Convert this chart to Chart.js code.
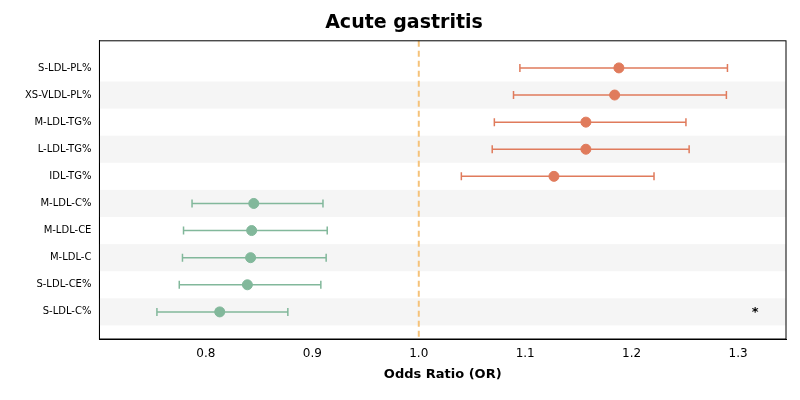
<!DOCTYPE html>
<html><head><meta charset="utf-8">
<script src="https://cdn.jsdelivr.net/npm/chart.js@4/dist/chart.umd.min.js"></script>
<style>body{margin:0;background:#fff}#wrap{width:800px;height:400px}</style>
</head><body><div id="wrap"><canvas id="mainChart"></canvas></div>
<script>
const labels = ["S-LDL-PL%","XS-VLDL-PL%","M-LDL-TG%","L-LDL-TG%","IDL-TG%","M-LDL-C%","M-LDL-CE","M-LDL-C","S-LDL-CE%","S-LDL-C%"];
const orValues = [1.188,1.184,1.157,1.157,1.127,0.845,0.843,0.842,0.839,0.813];
const lowValues = [1.095,1.089,1.071,1.069,1.040,0.787,0.779,0.778,0.775,0.754];
const highValues = [1.290,1.289,1.251,1.254,1.221,0.910,0.914,0.913,0.908,0.877];
const riskColor = "#e07b5c";
const protColor = "#82b89b";

const colors = orValues.map(v => v > 1 ? riskColor : protColor);

const extras = {
  id: "extras",
  beforeDatasetsDraw(chart) {
    const {ctx, chartArea: a, scales: {x, y}} = chart;
    ctx.save();
    ctx.fillStyle = "#f5f5f5";
    for (let i = 1; i < labels.length; i += 2) {
      const t = y.getPixelForValue(i - 0.5), b = y.getPixelForValue(i + 0.5);
      ctx.fillRect(a.left, t, a.right - a.left, b - t);
    }
    ctx.strokeStyle = "#f5c27a"; ctx.lineWidth = 2; ctx.setLineDash([6, 4]);
    const x1 = x.getPixelForValue(1);
    ctx.beginPath(); ctx.moveTo(x1, a.top); ctx.lineTo(x1, a.bottom); ctx.stroke();
    ctx.setLineDash([]); ctx.lineWidth = 1.5;
    labels.forEach((l, i) => {
      const py = y.getPixelForValue(i), lo = x.getPixelForValue(lowValues[i]), hi = x.getPixelForValue(highValues[i]);
      ctx.strokeStyle = colors[i];
      ctx.beginPath();
      ctx.moveTo(lo, py); ctx.lineTo(hi, py);
      ctx.moveTo(lo, py - 4); ctx.lineTo(lo, py + 4);
      ctx.moveTo(hi, py - 4); ctx.lineTo(hi, py + 4);
      ctx.stroke();
    });
    ctx.strokeStyle = "#000"; ctx.lineWidth = 1;
    ctx.strokeRect(a.left, a.top, a.right - a.left, a.bottom - a.top);
    ctx.fillStyle = "#000"; ctx.font = "bold 13px 'DejaVu Sans'"; ctx.textAlign = "center";
    ctx.fillText("*", x.getPixelForValue(1.316), y.getPixelForValue(9) + 4);
    ctx.restore();
  }
};

new Chart(document.getElementById("mainChart"), {
  type: "scatter",
  data: {
    datasets: [{
      data: orValues.map((v, i) => ({x: v, y: i})),
      backgroundColor: colors, borderColor: colors,
      pointRadius: 5, pointHoverRadius: 5
    }]
  },
  options: {
    responsive: true, maintainAspectRatio: false, animation: false,
    layout: {padding: {left: 22, right: 14, top: 2, bottom: 14}},
    plugins: {
      legend: {display: false}, tooltip: {enabled: false},
      title: {display: true, text: "Acute gastritis", color: "#000",
        font: {family: "'DejaVu Sans'", size: 19, weight: "bold"}, padding: {top: 10, bottom: 6}}
    },
    scales: {
      x: {
        min: 0.7, max: 1.345,
        afterBuildTicks: s => { s.ticks = [0.8,0.9,1.0,1.1,1.2,1.3].map(v => ({value: v})); },
        ticks: {color: "#000", font: {family: "'DejaVu Sans'", size: 12}, callback: v => v.toFixed(1)},
        grid: {display: false, drawTicks: true, tickLength: 5, tickColor: "#000"},
        border: {color: "#000"},
        title: {display: true, text: "Odds Ratio (OR)", color: "#000", padding: {top: 2},
          font: {family: "'DejaVu Sans'", size: 13, weight: "bold"}}
      },
      y: {
        reverse: true, min: -1, max: 10,
        afterBuildTicks: s => { s.ticks = labels.map((l, i) => ({value: i})); },
        ticks: {color: "#000", font: {family: "'DejaVu Sans'", size: 10}, callback: v => labels[v]},
        grid: {display: false, tickLength: 5, tickColor: "#000"},
        border: {color: "#000"}
      }
    }
  },
  plugins: [extras]
});
</script>
</body></html>
